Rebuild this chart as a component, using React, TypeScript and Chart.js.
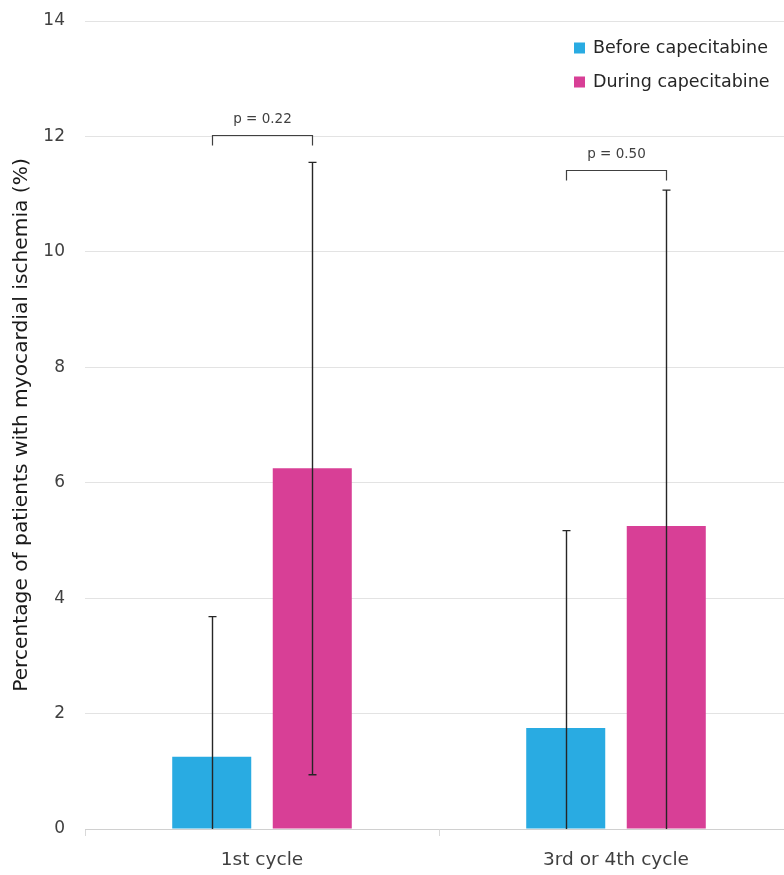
import React, { useEffect, useRef } from "react";
import { Chart, registerables } from "chart.js";

Chart.register(...registerables);

const categories = ["1st cycle", "3rd or 4th cycle"];
const seriesNames = ["Before capecitabine", "During capecitabine"];
const beforeValues = [1.25, 1.75];
const duringValues = [6.25, 5.25];
const beforeErrLow = [0, 0];
const beforeErrHigh = [3.68, 5.17];
const duringErrLow = [0.94, 0];
const duringErrHigh = [11.55, 11.07];
const pLabels = ["p = 0.22", "p = 0.50"];
const bracketLevels = [12.03, 11.42];
const yMin = 0;
const yMax = 14;
const yStep = 2;
const yTitle = "Percentage of patients with myocardial ischemia (%)";
const seriesColors = ["#29ABE2", "#D83F96"];

const FONT = "'DejaVu Sans', sans-serif";

const errLows = [beforeErrLow, duringErrLow];
const errHighs = [beforeErrHigh, duringErrHigh];

const errorBarPlugin = {
  id: "errorBars",
  afterDatasetsDraw(chart: any) {
    const ctx = chart.ctx;
    const y = chart.scales.y;
    ctx.save();
    ctx.strokeStyle = "#262626";
    ctx.lineWidth = 1.4;
    chart.data.datasets.forEach((_: any, di: number) => {
      const meta = chart.getDatasetMeta(di);
      meta.data.forEach((el: any, j: number) => {
        const lo = errLows[di][j];
        const hi = errHighs[di][j];
        const x = Math.round(el.x) + 0.5;
        const yLo = y.getPixelForValue(lo);
        const yHi = y.getPixelForValue(hi);
        ctx.beginPath();
        ctx.moveTo(x, yLo);
        ctx.lineTo(x, yHi);
        ctx.moveTo(x - 4, yHi);
        ctx.lineTo(x + 4, yHi);
        if (lo > 0) {
          ctx.moveTo(x - 4, yLo);
          ctx.lineTo(x + 4, yLo);
        }
        ctx.stroke();
      });
    });
    ctx.restore();
  },
};

const bracketPlugin = {
  id: "brackets",
  afterDatasetsDraw(chart: any) {
    const ctx = chart.ctx;
    const y = chart.scales.y;
    const m0 = chart.getDatasetMeta(0);
    const m1 = chart.getDatasetMeta(1);
    ctx.save();
    ctx.strokeStyle = "#404040";
    ctx.lineWidth = 1.2;
    ctx.fillStyle = "#404040";
    ctx.font = `13.5px ${FONT}`;
    ctx.textAlign = "center";
    ctx.textBaseline = "middle";
    categories.forEach((_, j) => {
      const x1 = Math.round(m0.data[j].x) + 0.5;
      const x2 = Math.round(m1.data[j].x) + 0.5;
      const yy = Math.round(y.getPixelForValue(bracketLevels[j])) + 0.5;
      ctx.beginPath();
      ctx.moveTo(x1, yy + 10);
      ctx.lineTo(x1, yy);
      ctx.lineTo(x2, yy);
      ctx.lineTo(x2, yy + 10);
      ctx.stroke();
      ctx.fillText(pLabels[j], (x1 + x2) / 2, yy - 16);
    });
    ctx.restore();
  },
};

const legendPlugin = {
  id: "customLegend",
  afterDraw(chart: any) {
    const ctx = chart.ctx;
    const area = chart.chartArea;
    const x0 = area.right - 219;
    ctx.save();
    ctx.font = `17.5px ${FONT}`;
    ctx.textBaseline = "middle";
    ctx.textAlign = "left";
    seriesNames.forEach((name, i) => {
      const cy = area.top + 27 + i * 34;
      ctx.fillStyle = seriesColors[i];
      ctx.fillRect(x0, cy - 5.5, 11, 11);
      ctx.fillStyle = "#262626";
      ctx.fillText(name, x0 + 19, cy);
    });
    ctx.restore();
  },
};

export default function App() {
  const ref = useRef<HTMLCanvasElement | null>(null);
  useEffect(() => {
    if (!ref.current) return;
    const chart = new Chart(ref.current, {
      type: "bar",
      data: {
        labels: categories,
        datasets: [
          {
            label: seriesNames[0],
            data: beforeValues,
            backgroundColor: seriesColors[0],
            categoryPercentage: 0.568,
            barPercentage: 0.786,
          },
          {
            label: seriesNames[1],
            data: duringValues,
            backgroundColor: seriesColors[1],
            categoryPercentage: 0.568,
            barPercentage: 0.786,
          },
        ],
      },
      options: {
        animation: false,
        responsive: false,
        layout: { padding: { left: 0, right: 7, top: 21, bottom: 0 } },
        plugins: {
          legend: { display: false },
          tooltip: { enabled: false },
          title: { display: false },
        },
        scales: {
          x: {
            grid: {
              display: true,
              offset: true,
              drawOnChartArea: false,
              drawTicks: true,
              tickLength: 7,
              color: "#d9d9d9",
            },
            border: { display: true, color: "#d0d0d0", width: 1 },
            ticks: {
              color: "#404040",
              font: { family: FONT, size: 18.5 },
              padding: 13,
            },
            afterFit(scale: any) {
              scale.height = 46;
              scale.paddingLeft = 0;
              scale.paddingRight = 0;
            },
          },
          y: {
            min: yMin,
            max: yMax,
            ticks: {
              stepSize: yStep,
              color: "#404040",
              font: { family: FONT, size: 17 },
              padding: 20,
            },
            grid: { color: "#e3e3e3", drawTicks: false },
            border: { display: false },
            title: {
              display: true,
              text: yTitle,
              color: "#1a1a1a",
              font: { family: FONT, size: 20.2, weight: "normal" },
              padding: { top: 10, bottom: 0 },
            },
            afterFit(scale: any) {
              scale.width = 85;
              scale.paddingTop = 0;
              scale.paddingBottom = 0;
            },
          },
        },
      },
      plugins: [errorBarPlugin, bracketPlugin, legendPlugin],
    });
    return () => chart.destroy();
  }, []);
  return (
    <div style={{ position: "absolute", left: 0, top: 0, width: 784, height: 875, overflow: "hidden" }}>
      <canvas ref={ref} width={800} height={875} style={{ display: "block", width: 800, height: 875 }} />
    </div>
  );
}
